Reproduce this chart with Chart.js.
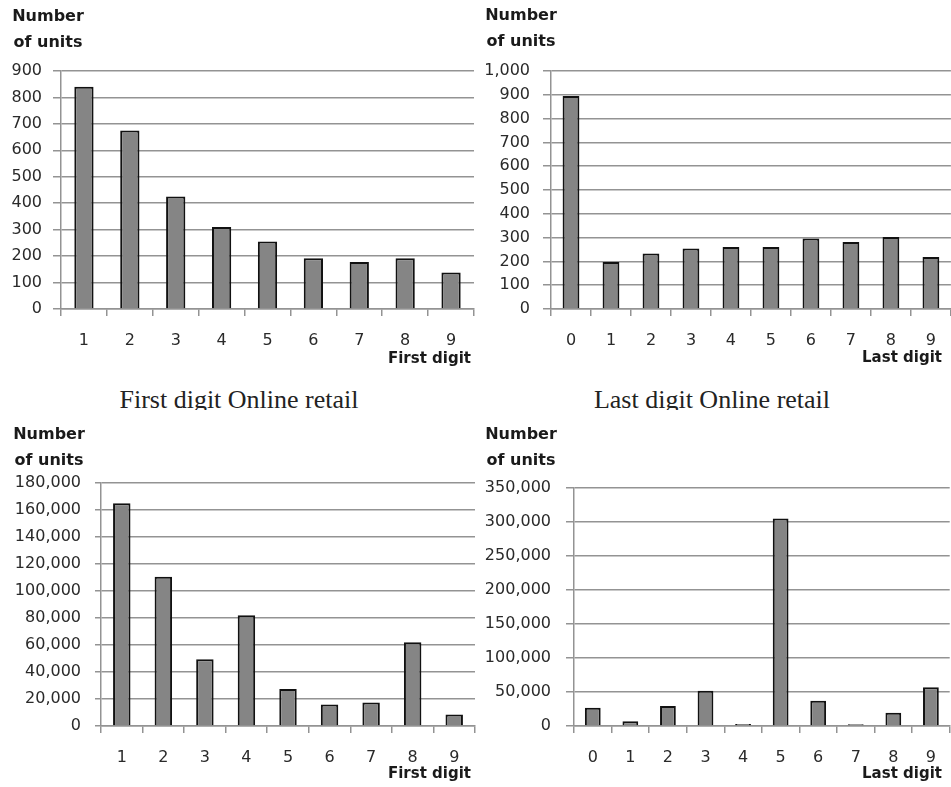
<!DOCTYPE html>
<html>
<head>
<meta charset="utf-8">
<script src="https://cdn.jsdelivr.net/npm/chart.js@4/dist/chart.umd.min.js"></script>
<style>
  html, body { margin: 0; padding: 0; background: #fff; }
  #root { position: relative; width: 951px; height: 787px; overflow: hidden; background: #fff; }
  canvas { position: absolute; }
  .ytitle { position: absolute; width: 100px; text-align: center; font: bold 16px "DejaVu Sans", sans-serif; line-height: 26px; color: #1a1a1a; }
  .xtitle { position: absolute; width: 140px; text-align: right; font: bold 15px "DejaVu Sans", sans-serif; line-height: 20px; color: #1a1a1a; }
  .ptitle { position: absolute; width: 400px; height: 23px; overflow: hidden; text-align: center; font: 26px "Liberation Serif", serif; line-height: 26px; color: #222; }
</style>
</head>
<body>
<div id="root">
  <canvas id="c1" width="476" height="380" style="left:0px;top:0px;width:476px;height:380px"></canvas>
  <canvas id="c2" width="475" height="380" style="left:476px;top:0px;width:475px;height:380px"></canvas>
  <canvas id="c3" width="476" height="367" style="left:0px;top:420px;width:476px;height:367px"></canvas>
  <canvas id="c4" width="475" height="367" style="left:476px;top:420px;width:475px;height:367px"></canvas>

  <div class="ytitle" style="left:-2px;top:3px">Number<br>of units</div>
  <div class="ytitle" style="left:471px;top:2px">Number<br>of units</div>
  <div class="ytitle" style="left:-1px;top:421px">Number<br>of units</div>
  <div class="ytitle" style="left:471px;top:421px">Number<br>of units</div>

  <div class="xtitle" style="left:331px;top:348px">First digit</div>
  <div class="xtitle" style="left:802px;top:347px">Last digit</div>
  <div class="xtitle" style="left:331px;top:763px">First digit</div>
  <div class="xtitle" style="left:802px;top:763px">Last digit</div>

  <div class="ptitle" style="left:39px;top:387px">First digit Online retail</div>
  <div class="ptitle" style="left:512px;top:387px">Last digit Online retail</div>
</div>
<script>
// ---- Data ----
const firstDigitLabels = ['1', '2', '3', '4', '5', '6', '7', '8', '9'];
const lastDigitLabels  = ['0', '1', '2', '3', '4', '5', '6', '7', '8', '9'];

// Top row (Online retail)
const firstDigitRetail = [840, 675, 425, 310, 255, 192, 178, 192, 138];
const lastDigitRetail  = [895, 198, 233, 254, 261, 261, 296, 282, 302, 218];

// Bottom row
const firstDigitUnits = [165000, 110500, 49500, 82000, 27500, 16000, 17500, 62000, 8500];
const lastDigitUnits  = [27000, 7000, 29500, 52000, 3000, 305000, 37000, 2500, 19500, 57000];

// Y-axis tick ranges
const yMaxes = [900, 1000, 180000, 350000];
const ySteps = [100, 100, 20000, 50000];

// ---- Drawing ----
const GRID = '#939393';
const TICK_FONT = { family: 'DejaVu Sans', size: 16 };

function makeChart(id, labels, values, yMax, yStep, geo) {
  const ctx = document.getElementById(id);
  return new Chart(ctx, {
    type: 'bar',
    data: {
      labels: labels,
      datasets: [{
        data: values,
        backgroundColor: '#858585',
        borderColor: '#111111',
        borderWidth: 2,
        barPercentage: 0.42,
        categoryPercentage: 1.0
      }]
    },
    options: {
      responsive: false,
      animation: false,
      events: [],
      layout: { padding: { top: geo.padTop, right: geo.padRight, bottom: geo.padBottom, left: 0 } },
      plugins: { legend: { display: false }, tooltip: { enabled: false }, title: { display: false } },
      scales: {
        x: {
          offset: true,
          afterFit: s => { s.height = 50; },
          grid: { display: true, drawOnChartArea: false, drawTicks: true, tickLength: 7, color: GRID, lineWidth: 1.5, offset: true },
          border: { display: true, color: GRID, width: 1.5 },
          ticks: { font: TICK_FONT, color: '#2a2a2a', padding: 15, maxRotation: 0, autoSkip: false }
        },
        y: {
          min: 0,
          max: yMax,
          afterFit: s => { s.width = geo.yWidth; },
          grid: { display: true, drawOnChartArea: true, drawTicks: true, tickLength: geo.tickLen, color: GRID, lineWidth: 1.5 },
          border: { display: true, color: GRID, width: 1.5 },
          ticks: {
            stepSize: yStep,
            font: TICK_FONT,
            color: '#2a2a2a',
            padding: geo.labPad,
            callback: v => Number(v).toLocaleString('en-US')
          }
        }
      }
    }
  });
}

makeChart('c1', firstDigitLabels, firstDigitRetail, yMaxes[0], ySteps[0],
  { yWidth: 61, padTop: 71, padRight: 2, padBottom: 21, tickLen: 8, labPad: 11 });
makeChart('c2', lastDigitLabels, lastDigitRetail, yMaxes[1], ySteps[1],
  { yWidth: 75, padTop: 71, padRight: 0, padBottom: 21, tickLen: 8, labPad: 13 });
makeChart('c3', firstDigitLabels, firstDigitUnits, yMaxes[2], ySteps[2],
  { yWidth: 101, padTop: 63, padRight: 1, padBottom: 11, tickLen: 6, labPad: 14 });
makeChart('c4', lastDigitLabels, lastDigitUnits, yMaxes[3], ySteps[3],
  { yWidth: 98, padTop: 68, padRight: 0, padBottom: 11, tickLen: 8, labPad: 15 });
</script>
</body>
</html>
